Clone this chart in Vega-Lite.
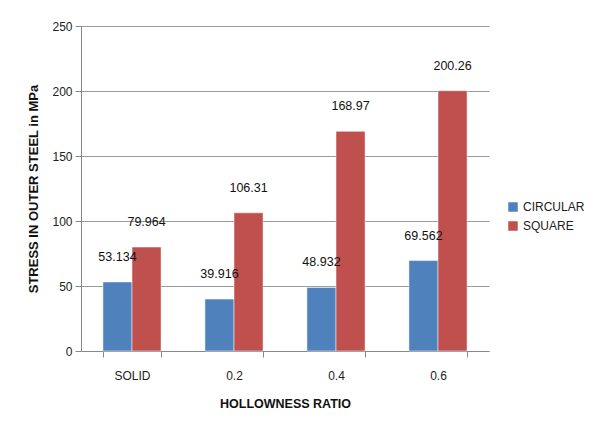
{
  "$schema": "https://vega.github.io/schema/vega-lite/v6.json",
  "autosize": {"type": "none"},
  "width": 408,
  "height": 325,
  "padding": {"left": 81, "top": 26, "right": 103, "bottom": 83},
  "background": "white",
  "config": {
    "font": "Liberation Sans",
    "view": {"stroke": null},
    "axis": {"labelFont": "Liberation Sans", "titleFont": "Liberation Sans", "labelColor": "#222", "titleColor": "#111", "domainColor": "#888", "tickColor": "#888", "gridColor": "#9a9a9a"}
  },
  "data": {
    "values": [
      {"ratio": "SOLID", "section": "CIRCULAR", "stress": 53.134, "label": "53.134"},
      {"ratio": "SOLID", "section": "SQUARE", "stress": 79.964, "label": "79.964"},
      {"ratio": "0.2", "section": "CIRCULAR", "stress": 39.916, "label": "39.916"},
      {"ratio": "0.2", "section": "SQUARE", "stress": 106.31, "label": "106.31"},
      {"ratio": "0.4", "section": "CIRCULAR", "stress": 48.932, "label": "48.932"},
      {"ratio": "0.4", "section": "SQUARE", "stress": 168.97, "label": "168.97"},
      {"ratio": "0.6", "section": "CIRCULAR", "stress": 69.562, "label": "69.562"},
      {"ratio": "0.6", "section": "SQUARE", "stress": 200.26, "label": "200.26"}
    ]
  },
  "encoding": {
    "x": {
      "field": "ratio", "type": "nominal", "sort": ["SOLID", "0.2", "0.4", "0.6"],
      "scale": {"paddingInner": 0.43, "paddingOuter": 0.215},
      "axis": {"title": "HOLLOWNESS RATIO", "labelAngle": 0, "labelFontSize": 12, "labelPadding": 13, "tickBand": "extent", "tickSize": 6, "titleFontSize": 12.5, "titleFontWeight": "bold", "titlePadding": 16, "grid": false}
    },
    "xOffset": {"field": "section", "type": "nominal", "sort": ["CIRCULAR", "SQUARE"]},
    "y": {
      "field": "stress", "type": "quantitative",
      "scale": {"domain": [0, 250]},
      "axis": {"title": "STRESS IN OUTER STEEL in MPa", "values": [0, 50, 100, 150, 200, 250], "labelFontSize": 12, "tickSize": 6, "labelPadding": 3, "titleFontSize": 13, "titleFontWeight": "bold", "titlePadding": 11, "grid": true}
    }
  },
  "layer": [
    {
      "mark": {"type": "bar", "stroke": "white", "strokeWidth": 0.5},
      "encoding": {
        "color": {
          "field": "section", "type": "nominal",
          "scale": {"domain": ["CIRCULAR", "SQUARE"], "range": ["#4F81BD", "#C0504D"]},
          "legend": {"title": null, "orient": "none", "legendX": 426, "legendY": 175, "symbolType": "square", "symbolSize": 90, "symbolStrokeWidth": 0, "labelFontSize": 12, "labelColor": "#222", "rowPadding": 7}
        }
      }
    },
    {
      "mark": {"type": "text", "baseline": "middle", "dy": -25, "fontSize": 12.5, "color": "#111"},
      "encoding": {"text": {"field": "label"}}
    }
  ]
}
